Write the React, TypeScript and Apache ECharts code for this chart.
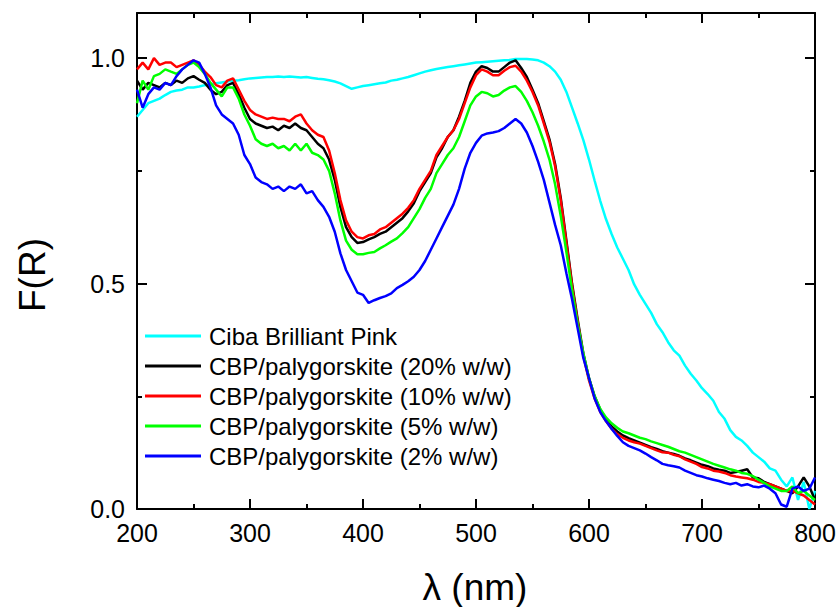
import React, { useEffect, useRef } from "react";
import * as echarts from "echarts";

const wavelengths: number[] = [];
for (let w = 200; w <= 800; w += 5) wavelengths.push(w);

const seriesNames = [
  "Ciba Brilliant Pink",
  "CBP/palygorskite (20% w/w)",
  "CBP/palygorskite (10% w/w)",
  "CBP/palygorskite (5% w/w)",
  "CBP/palygorskite (2% w/w)",
];
const seriesColors = ["#00ffff", "#000000", "#ff0000", "#00ff00", "#0000ff"];

const xTicks = [200, 300, 400, 500, 600, 700, 800];
const yTicks = [0.0, 0.5, 1.0];

// 200..800 nm, step 5
const cibaPink = [
  0.87, 0.885, 0.9, 0.905, 0.91, 0.918, 0.925, 0.928, 0.93, 0.935,
  0.935, 0.937, 0.94, 0.942, 0.944, 0.946, 0.948, 0.95, 0.951, 0.953,
  0.955, 0.956, 0.957, 0.958, 0.958, 0.959, 0.958, 0.959, 0.958, 0.957,
  0.958, 0.956, 0.954, 0.953, 0.951, 0.948, 0.944, 0.938, 0.932, 0.935,
  0.938, 0.94, 0.942, 0.944, 0.946, 0.95, 0.952, 0.955, 0.958, 0.962,
  0.966, 0.97, 0.973, 0.976, 0.978, 0.98, 0.982, 0.984, 0.986, 0.988,
  0.99, 0.991, 0.992, 0.993, 0.994, 0.995, 0.996, 0.998, 0.998, 0.998,
  0.997, 0.995, 0.99, 0.982, 0.97, 0.952, 0.925, 0.89, 0.855, 0.818,
  0.775, 0.728, 0.683, 0.643, 0.61, 0.58, 0.555, 0.53, 0.498, 0.475,
  0.455, 0.435, 0.41, 0.392, 0.37, 0.352, 0.34, 0.318, 0.3, 0.285,
  0.268, 0.255, 0.24, 0.215, 0.2, 0.175, 0.16, 0.152, 0.14, 0.125,
  0.115, 0.105, 0.09, 0.085, 0.065, 0.05, 0.07, 0.02, 0.06, 0.0,
  0.04,
];

const cbp20 = [
  0.95, 0.93, 0.945, 0.94, 0.935, 0.945, 0.94, 0.95, 0.945, 0.955,
  0.96, 0.952, 0.945, 0.93, 0.92, 0.925, 0.94, 0.945, 0.92, 0.89,
  0.865, 0.855, 0.85, 0.845, 0.848, 0.84, 0.85, 0.845, 0.855, 0.845,
  0.84, 0.825, 0.81, 0.8, 0.775, 0.73, 0.67, 0.625, 0.603, 0.59,
  0.592, 0.598, 0.603, 0.61, 0.615, 0.625, 0.635, 0.645, 0.66, 0.678,
  0.705, 0.725, 0.745, 0.78, 0.8, 0.825, 0.84, 0.87, 0.905, 0.945,
  0.97, 0.982, 0.978, 0.97, 0.97, 0.98, 0.99, 0.995, 0.978, 0.958,
  0.93, 0.9, 0.86, 0.82, 0.765, 0.69, 0.595, 0.5, 0.42, 0.345,
  0.29, 0.25, 0.22, 0.2, 0.183, 0.172, 0.163, 0.157, 0.152, 0.147,
  0.142, 0.137, 0.133, 0.128, 0.125, 0.122, 0.118, 0.112, 0.108, 0.103,
  0.098, 0.095, 0.09, 0.087, 0.085, 0.08, 0.082, 0.085, 0.088, 0.07,
  0.068, 0.06, 0.055, 0.05, 0.045, 0.04, 0.035, 0.05, 0.07, 0.05,
  0.02,
];

const cbp10 = [
  0.975, 0.99, 0.975, 1.0, 0.985, 0.99, 0.99, 0.98, 0.985, 0.99,
  0.995, 0.985, 0.97, 0.958, 0.94, 0.935, 0.95, 0.955, 0.93, 0.905,
  0.885, 0.875, 0.87, 0.865, 0.868, 0.865, 0.865, 0.86, 0.87, 0.875,
  0.855, 0.84, 0.83, 0.825, 0.795, 0.745, 0.685, 0.64, 0.615, 0.603,
  0.6, 0.607, 0.61, 0.62, 0.625, 0.635, 0.645, 0.655, 0.668, 0.685,
  0.71, 0.73, 0.75, 0.785, 0.805, 0.825, 0.84, 0.865, 0.9, 0.935,
  0.962, 0.975, 0.97, 0.962, 0.962, 0.972, 0.98, 0.983, 0.97, 0.95,
  0.925, 0.895, 0.855, 0.815, 0.76, 0.685, 0.59, 0.495, 0.415, 0.34,
  0.285, 0.245, 0.215, 0.195, 0.178, 0.166, 0.158, 0.152, 0.148, 0.145,
  0.14, 0.135, 0.13, 0.126, 0.125, 0.12, 0.117, 0.11, 0.105, 0.1,
  0.093, 0.09, 0.085, 0.083, 0.08, 0.075, 0.072, 0.07, 0.068, 0.065,
  0.06, 0.058, 0.055, 0.05, 0.045, 0.04, 0.04, 0.035, 0.03, 0.02,
  0.01,
];

const cbp5 = [
  0.9, 0.95, 0.93, 0.96, 0.965, 0.975, 0.97, 0.965, 0.975, 0.985,
  0.99, 0.98, 0.965, 0.945, 0.93, 0.915, 0.935, 0.935, 0.91, 0.875,
  0.85, 0.82, 0.81, 0.805, 0.81, 0.8, 0.805, 0.795, 0.81, 0.795,
  0.81, 0.79, 0.785, 0.775, 0.75, 0.7, 0.64, 0.595, 0.575, 0.565,
  0.565, 0.568, 0.57, 0.578, 0.585, 0.593, 0.6, 0.612, 0.625, 0.645,
  0.665, 0.69, 0.71, 0.745, 0.765, 0.785, 0.8, 0.825, 0.86, 0.895,
  0.915, 0.925, 0.922, 0.915, 0.918, 0.928, 0.935, 0.938, 0.925, 0.905,
  0.88, 0.85, 0.815, 0.775, 0.72, 0.65, 0.57, 0.485, 0.41, 0.345,
  0.29, 0.25, 0.222, 0.203, 0.19, 0.18, 0.172, 0.168, 0.163, 0.158,
  0.155, 0.15, 0.146, 0.142, 0.138, 0.133, 0.128, 0.125, 0.12, 0.115,
  0.11, 0.105, 0.1, 0.096, 0.092, 0.088, 0.085, 0.08, 0.078, 0.073,
  0.065, 0.058, 0.05, 0.045, 0.04, 0.04, 0.05, 0.035, 0.04, 0.03,
  0.02,
];

const cbp2 = [
  0.93, 0.89, 0.92, 0.935, 0.93, 0.945, 0.94, 0.96, 0.975, 0.985,
  0.995, 0.99, 0.965, 0.935, 0.895, 0.875, 0.865, 0.855, 0.83, 0.785,
  0.765, 0.735, 0.725, 0.72, 0.71, 0.715, 0.705, 0.715, 0.71, 0.72,
  0.7, 0.705, 0.685, 0.67, 0.648, 0.615, 0.567, 0.53, 0.505, 0.48,
  0.475, 0.457, 0.463, 0.468, 0.472, 0.478, 0.49, 0.497, 0.505, 0.515,
  0.53, 0.55, 0.575, 0.6, 0.625, 0.65, 0.675, 0.71, 0.755, 0.79,
  0.812, 0.828, 0.833, 0.835, 0.838, 0.845, 0.855, 0.865, 0.855, 0.835,
  0.805, 0.77, 0.73, 0.68, 0.63, 0.585, 0.523, 0.465, 0.4, 0.335,
  0.29, 0.245, 0.215, 0.195, 0.178, 0.162, 0.148, 0.14, 0.135, 0.13,
  0.123, 0.115, 0.108, 0.1, 0.097, 0.095, 0.092, 0.085, 0.08, 0.075,
  0.072, 0.068, 0.065, 0.062, 0.058, 0.055, 0.058, 0.052, 0.055, 0.05,
  0.048, 0.052, 0.045, 0.035, 0.01, 0.005, 0.045, 0.05, 0.04, 0.045,
  0.07,
];

const allSeries = [cibaPink, cbp20, cbp10, cbp5, cbp2];

const FONT = "'Liberation Sans', Arial, sans-serif";

export default function App() {
  const ref = useRef<HTMLDivElement>(null);

  useEffect(() => {
    if (!ref.current) return;
    const chart = echarts.init(ref.current, undefined, { renderer: "svg" });

    const xBase = {
      type: "value" as const,
      min: xTicks[0],
      max: xTicks[xTicks.length - 1],
      interval: 100,
      splitLine: { show: false },
      axisLine: { show: true, onZero: false, lineStyle: { color: "#000", width: 2 } },
      axisTick: { show: true, inside: true, length: 10, lineStyle: { color: "#000", width: 2 } },
      minorTick: { show: true, splitNumber: 2, length: 5, lineStyle: { color: "#000", width: 2 } },
    };

    const yMajor = {
      type: "value" as const,
      min: 0,
      max: 1.1,
      interval: 0.5,
      splitLine: { show: false },
      axisLine: { show: true, onZero: false, lineStyle: { color: "#000", width: 2 } },
      axisTick: { show: true, inside: true, length: 10, lineStyle: { color: "#000", width: 2 } },
    };
    const yMinor = {
      type: "value" as const,
      min: 0,
      max: 1.1,
      interval: 0.25,
      splitLine: { show: false },
      axisLine: { show: false },
      axisLabel: { show: false },
      axisTick: { show: true, inside: true, length: 5, lineStyle: { color: "#000", width: 2 } },
    };

    chart.setOption({
      animation: false,
      backgroundColor: "#ffffff",
      textStyle: { fontFamily: FONT },
      grid: { left: 137, right: 25, top: 13, bottom: 98, containLabel: false },
      xAxis: [
        {
          ...xBase,
          position: "bottom",
          axisLabel: {
            show: true,
            fontSize: 25,
            color: "#000",
            fontFamily: FONT,
            margin: 11,
            formatter: (v: number) => (xTicks.includes(v) ? String(v) : ""),
          },
        },
        { ...xBase, position: "top", axisLabel: { show: false } },
      ],
      yAxis: [
        {
          ...yMajor,
          position: "left",
          axisLabel: {
            show: true,
            fontSize: 25,
            color: "#000",
            fontFamily: FONT,
            margin: 12,
            showMaxLabel: false,
            formatter: (v: number) =>
              yTicks.some((t) => Math.abs(t - v) < 1e-9) ? v.toFixed(1) : "",
          },
        },
        { ...yMinor, position: "left" },
        { ...yMajor, position: "right", axisLabel: { show: false } },
        { ...yMinor, position: "right" },
      ],
      legend: {
        orient: "vertical",
        left: 145,
        top: 324,
        padding: 0,
        itemGap: 6,
        itemWidth: 56,
        itemHeight: 3,
        icon: "rect",
        data: seriesNames,
        textStyle: {
          fontSize: 24,
          lineHeight: 24,
          color: "#000",
          fontFamily: FONT,
          padding: [0, 0, 0, 3],
        },
      },
      graphic: [
        {
          type: "text",
          x: 475,
          y: 587,
          style: {
            text: "λ (nm)",
            fontSize: 37,
            fontFamily: FONT,
            fill: "#000",
            align: "center",
            verticalAlign: "middle",
          },
        },
        {
          type: "text",
          x: 32,
          y: 275,
          rotation: Math.PI / 2,
          style: {
            text: "F(R)",
            fontSize: 37,
            fontFamily: FONT,
            fill: "#000",
            align: "center",
            verticalAlign: "middle",
          },
        },
      ],
      series: allSeries.map((vals, i) => ({
        name: seriesNames[i],
        type: "line",
        xAxisIndex: 0,
        yAxisIndex: 0,
        showSymbol: false,
        symbol: "none",
        color: seriesColors[i],
        lineStyle: { color: seriesColors[i], width: 2.5 },
        data: wavelengths.map((w, j) => [w, vals[j]]),
      })),
    });

    return () => chart.dispose();
  }, []);

  return (
    <div
      ref={ref}
      style={{ position: "fixed", left: 0, top: 0, width: 840, height: 607 }}
    />
  );
}
